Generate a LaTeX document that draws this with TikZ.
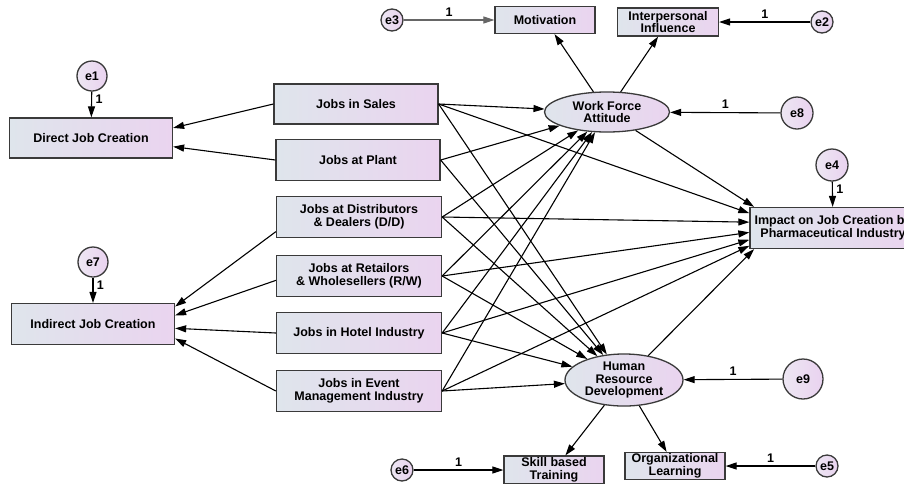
\documentclass[tikz,border=0pt]{standalone}
\usepackage{fontspec}
\setmainfont{Liberation Sans}
\usetikzlibrary{arrows.meta,shapes.geometric}
\definecolor{boxleft}{HTML}{DFE5EC}
\definecolor{boxright}{HTML}{EAD4EF}
\definecolor{errleft}{HTML}{EDE7F3}
\definecolor{errright}{HTML}{E9D2EF}
\definecolor{rim}{HTML}{3A3A3A}
\begin{document}
\begin{tikzpicture}[x=1pt,y=-1pt,
    font=\fontsize{12.5}{12.8}\selectfont\bfseries,
    obs/.style={draw=rim,line width=1.3pt,left color=boxleft,right color=boxright,
        align=center,inner sep=1pt},
    lat/.style={ellipse,draw=rim,line width=1.3pt,left color=boxleft,right color=boxright,
        align=center,inner sep=0pt},
    err/.style={circle,draw=rim,line width=1.3pt,left color=errleft,right color=errright,
        inner sep=0pt},
    arr/.style={-{Triangle[length=11pt,width=7pt]},line width=1.1pt}]
    \useasboundingbox (0,0) rectangle (904,483);
    \clip (0,0) rectangle (904,483);
    \fill[white] (0,0) rectangle (904,483);
    % job categories
    \node[obs,minimum width=163pt,minimum height=40pt] (direct) at (91,138) {Direct Job Creation};
    \node[obs,minimum width=163pt,minimum height=41pt] (indirect) at (93,324) {Indirect Job Creation};
    \node[obs,minimum width=164pt,minimum height=40pt] (sales) at (356,104) {Jobs in Sales};
    \node[obs,minimum width=164pt,minimum height=41pt] (plant) at (358,160) {Jobs at Plant};
    \node[obs,minimum width=165pt,minimum height=41pt] (dist) at (359,217) {Jobs at Distributors\\\& Dealers (D/D)};
    \node[obs,minimum width=165pt,minimum height=41pt] (retail) at (359,276) {Jobs at Retailors\\\& Wholesellers (R/W)};
    \node[obs,minimum width=165pt,minimum height=41pt] (hotel) at (359,333) {Jobs in Hotel Industry};
    \node[obs,minimum width=165pt,minimum height=41pt] (event) at (359,391) {Jobs in Event\\Management Industry};
    % latent variables and their indicators
    \node[lat,minimum width=125pt,minimum height=40pt] (wfa) at (607,112) {Work Force\\Attitude};
    \node[lat,minimum width=118pt,minimum height=52pt] (hrd) at (624,380) {Human\\Resource\\Development};
    \node[obs,minimum width=100pt,minimum height=27pt] (motiv) at (545,20) {Motivation};
    \node[obs,minimum width=101pt,minimum height=28pt] (inter) at (668,22) {Interpersonal\\Influence};
    \node[obs,minimum width=100pt,minimum height=28pt] (skill) at (554,470) {Skill based\\Training};
    \node[obs,minimum width=100pt,minimum height=27pt] (orgl) at (675,466) {Organizational\\Learning};
    \node[obs,minimum width=166pt,minimum height=41pt] (impact) at (833,228) {Impact on Job Creation by\\Pharmaceutical Industry};
    % error terms
    \node[err,minimum size=30pt] (e1) at (92,76) {e1};
    \node[err,minimum size=30pt] (e7) at (93,262) {e7};
    \node[err,minimum size=22pt] (e3) at (392,20) {e3};
    \node[err,minimum size=22pt] (e2) at (822,22) {e2};
    \node[err,minimum size=32pt] (e8) at (797,113) {e8};
    \node[err,minimum size=32pt] (e4) at (832,165) {e4};
    \node[err,minimum size=40pt] (e9) at (803,379) {e9};
    \node[err,minimum size=22pt] (e6) at (402,470) {e6};
    \node[err,minimum size=22pt] (e5) at (827,466) {e5};
    % error paths
    \draw[arr] (e1) -- node[right,pos=0.3] {1} (direct);
    \draw[arr] (e7) -- node[right,pos=0.3] {1} (indirect);
    \draw[arr] (e4) -- node[right,pos=0.3] {1} (impact);
    \draw[arr,draw=black!60] (e3) -- node[above,text=black] {1} (motiv);
    \draw[arr] (e2) -- node[above] {1} (inter);
    \draw[arr] (e8) -- node[above] {1} (wfa);
    \draw[arr] (e9) -- node[above] {1} (hrd);
    \draw[arr] (e6) -- node[above] {1} (skill);
    \draw[arr] (e5) -- node[above] {1} (orgl);
    % to direct and indirect creation
    \draw[arr] (sales.west) -- (direct.7);
    \draw[arr] (plant.west) -- (direct.-6);
    \draw[arr] (dist.190) -- (indirect.12);
    \draw[arr] (retail.183) -- (indirect.6);
    \draw[arr] (hotel.west) -- (indirect.-3);
    \draw[arr] (event.west) -- (indirect.-10);
    % to the latent variables
    \foreach \s in {sales,plant,dist,retail,hotel,event} {
        \draw[arr] (\s.east) -- (wfa);
        \draw[arr] (\s.east) -- (hrd);
    }
    \draw[arr] (wfa) -- (motiv);
    \draw[arr] (wfa) -- (inter);
    \draw[arr] (hrd) -- (skill);
    \draw[arr] (hrd) -- (orgl);
    % to the impact
    \draw[arr] (wfa) -- (impact.165);
    \draw[arr] (sales.east) -- (impact.170);
    \draw[arr] (dist.east) -- (impact.176);
    \draw[arr] (retail.east) -- (impact.183);
    \draw[arr] (hotel.east) -- (impact.188);
    \draw[arr] (event.east) -- (impact.192);
    \draw[arr] (hrd) -- (impact.195);
\end{tikzpicture}
\end{document}
